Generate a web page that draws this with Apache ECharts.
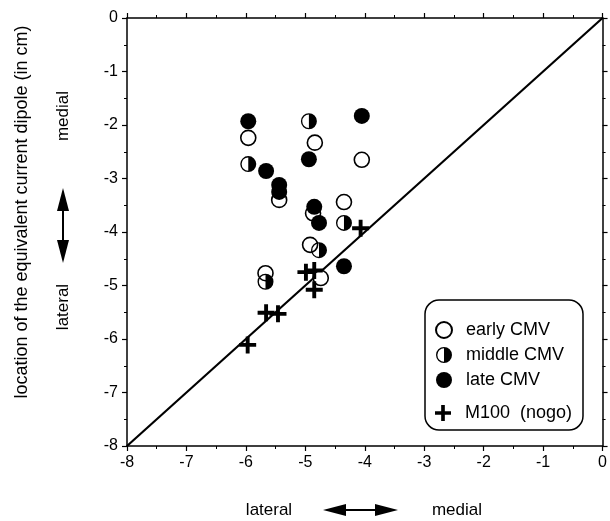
<!DOCTYPE html>
<html>
<head>
<meta charset="utf-8">
<script src="https://cdn.jsdelivr.net/npm/echarts@6/dist/echarts.min.js"></script>
<style>
  html, body { margin: 0; padding: 0; background: #fff; }
  #chart { width: 610px; height: 521px; }
</style>
</head>
<body>
<div id="chart"></div>
<script>
// dipole locations [x, y] in cm
var earlyCMV = [
    [-5.96, -2.24], [-5.44, -3.40], [-4.84, -2.33], [-4.05, -2.65],
    [-4.35, -3.44], [-4.87, -3.65], [-4.92, -4.24], [-4.74, -4.86],
    [-5.67, -4.77]
];
var middleCMV = [
    [-5.96, -2.73], [-4.94, -1.93], [-4.35, -3.83], [-4.77, -4.34],
    [-5.67, -4.93]
];
var lateCMV = [
    [-5.96, -1.93], [-5.66, -2.86], [-5.44, -3.12], [-5.44, -3.25],
    [-4.94, -2.64], [-4.05, -1.83], [-4.85, -3.53], [-4.77, -3.83],
    [-4.35, -4.64]
];
var m100 = [
    [-4.07, -3.93], [-4.99, -4.75], [-4.85, -4.72], [-4.85, -5.08],
    [-5.66, -5.51], [-5.46, -5.53], [-5.97, -6.11]
];
var diagonal = [[-8, -8], [0, 0]];
var axisMin = -8, axisMax = 0;

var font = 'Liberation Sans';
var halfPath = 'path://M0,-10 A10,10 0 0,1 0,10 A10,10 0 0,1 0,-10 Z M0,-8.3 A8.3,8.3 0 0,0 0,8.3 L0,-8.3 Z';
var plusPath = 'path://M-1.6,-7 L1.6,-7 L1.6,-1.6 L7,-1.6 L7,1.6 L1.6,1.6 L1.6,7 L-1.6,7 L-1.6,1.6 L-7,1.6 L-7,-1.6 L-1.6,-1.6 Z';

var myChart = echarts.init(document.getElementById('chart'));

function axisCommon(extra) {
    var a = {
        type: 'value',
        min: axisMin,
        max: axisMax,
        interval: 1,
        axisLine: { show: true, onZero: false, lineStyle: { color: '#000', width: 1.5 } },
        axisTick: { show: true, inside: false, length: 5, lineStyle: { color: '#000', width: 1.2 } },
        minorTick: { show: true, splitNumber: 2, length: 3, lineStyle: { color: '#000', width: 1 } },
        splitLine: { show: false },
        axisLabel: { color: '#000', fontSize: 16, fontFamily: font, margin: 9 }
    };
    for (var k in extra) a[k] = extra[k];
    return a;
}

var option = {
    animation: false,
    backgroundColor: '#fff',
    grid: { left: 127, right: 5, top: 18, bottom: 75 },
    xAxis: [
        axisCommon({ position: 'bottom' }),
        axisCommon({ position: 'top', axisLabel: { show: false } })
    ],
    yAxis: [
        axisCommon({ position: 'left' }),
        axisCommon({ position: 'right', axisLabel: { show: false } })
    ],
    legend: [{
        orient: 'vertical',
        left: 430,
        top: 316,
        itemWidth: 26,
        itemHeight: 16,
        itemGap: 7,
        textStyle: { color: '#000', fontSize: 18, fontFamily: font, padding: [0, 0, 0, 4] },
        data: [
            { name: 'early CMV', icon: 'circle' },
            { name: 'middle CMV', icon: halfPath },
            { name: 'late CMV', icon: 'circle' }
        ]
    }, {
        orient: 'vertical',
        left: 430,
        top: 399,
        itemWidth: 26,
        itemHeight: 16,
        textStyle: { color: '#000', fontSize: 18, fontFamily: font, padding: [0, 0, 0, 4] },
        data: [{ name: 'M100  (nogo)', icon: plusPath }]
    }],
    graphic: [
        { type: 'rect', shape: { x: 425, y: 300, width: 158, height: 130, r: 14 },
          style: { fill: '#fff', stroke: '#000', lineWidth: 1.5 }, z: 0 },
        { type: 'text', x: 22, y: 212, rotation: Math.PI / 2,
          style: { text: 'location of the equivalent current dipole (in cm)', fill: '#000',
                   font: '18px ' + font, align: 'center', verticalAlign: 'middle' } },
        { type: 'text', x: 63, y: 116, rotation: Math.PI / 2,
          style: { text: 'medial', fill: '#000', font: '17px ' + font, align: 'center', verticalAlign: 'middle' } },
        { type: 'text', x: 63, y: 307, rotation: Math.PI / 2,
          style: { text: 'lateral', fill: '#000', font: '17px ' + font, align: 'center', verticalAlign: 'middle' } },
        { type: 'line', shape: { x1: 63, y1: 200, x2: 63, y2: 252 }, style: { stroke: '#000', lineWidth: 2 } },
        { type: 'polygon', shape: { points: [[63, 188], [57, 211], [69, 211]] }, style: { fill: '#000' } },
        { type: 'polygon', shape: { points: [[63, 263], [57, 240], [69, 240]] }, style: { fill: '#000' } },
        { type: 'text', x: 269, y: 510,
          style: { text: 'lateral', fill: '#000', font: '17px ' + font, align: 'center', verticalAlign: 'middle' } },
        { type: 'text', x: 457, y: 510,
          style: { text: 'medial', fill: '#000', font: '17px ' + font, align: 'center', verticalAlign: 'middle' } },
        { type: 'line', shape: { x1: 335, y1: 510, x2: 386, y2: 510 }, style: { stroke: '#000', lineWidth: 2 } },
        { type: 'polygon', shape: { points: [[323, 510], [346, 504], [346, 516]] }, style: { fill: '#000' } },
        { type: 'polygon', shape: { points: [[398, 510], [375, 504], [375, 516]] }, style: { fill: '#000' } }
    ],
    series: [
        {
            type: 'line',
            data: diagonal,
            symbol: 'none',
            lineStyle: { color: '#000', width: 2.2 },
            z: 1,
            silent: true
        },
        {
            name: 'early CMV',
            type: 'scatter',
            data: earlyCMV,
            symbol: 'circle',
            symbolSize: 15,
            itemStyle: { color: '#fff', borderColor: '#000', borderWidth: 1.6, opacity: 1 },
            z: 2
        },
        {
            name: 'middle CMV',
            type: 'scatter',
            data: middleCMV,
            symbol: halfPath,
            symbolSize: 16,
            itemStyle: { color: '#000', opacity: 1 },
            z: 3
        },
        {
            name: 'late CMV',
            type: 'scatter',
            data: lateCMV,
            symbol: 'circle',
            symbolSize: 16,
            itemStyle: { color: '#000', opacity: 1 },
            z: 4
        },
        {
            name: 'M100  (nogo)',
            type: 'scatter',
            data: m100,
            symbol: plusPath,
            symbolSize: 17,
            itemStyle: { color: '#000', opacity: 1 },
            z: 5
        }
    ]
};

myChart.setOption(option);
</script>
</body>
</html>
